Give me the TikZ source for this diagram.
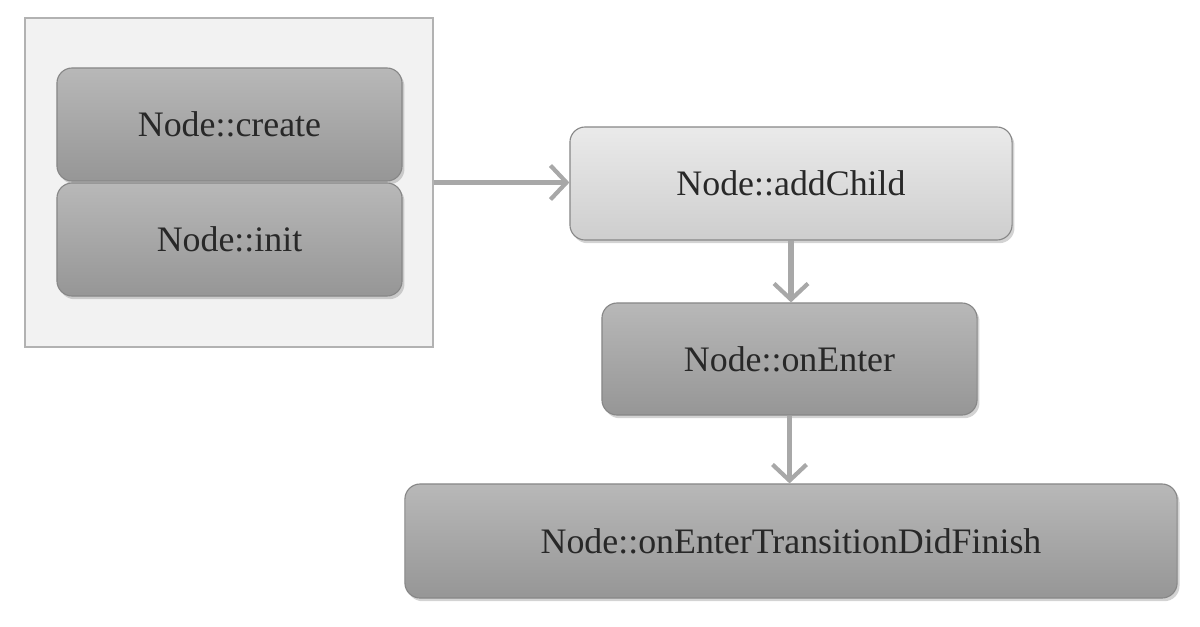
\documentclass[tikz,border=0pt]{standalone}
\usepackage{fontspec}
\setmainfont{Liberation Serif}
\usetikzlibrary{arrows.meta,shadows}
\definecolor{FrameFill}{RGB}{242,242,242}
\definecolor{FrameLine}{RGB}{178,178,178}
\definecolor{DarkTop}{RGB}{184,184,184}
\definecolor{DarkBot}{RGB}{150,150,150}
\definecolor{LightTop}{RGB}{234,234,234}
\definecolor{LightBot}{RGB}{206,206,206}
\definecolor{BoxLine}{RGB}{135,135,135}
\definecolor{ArrowGray}{RGB}{168,168,168}
\definecolor{TextGray}{RGB}{40,40,40}
\tikzset{
  callbox/.style={rounded corners=0.38cm,draw=BoxLine,line width=0.8pt,top color=DarkTop,bottom color=DarkBot,
    text=TextGray,font=\fontsize{25.5}{30}\selectfont,inner sep=0pt,
    drop shadow={shadow xshift=0.06cm,shadow yshift=-0.08cm,opacity=0.35}},
  lightbox/.style={callbox,top color=LightTop,bottom color=LightBot},
  flow/.style={ArrowGray,line width=3.6pt,-{Straight Barb[length=0.4cm,width=0.85cm,line width=3pt]}}
}
\begin{document}
\begin{tikzpicture}[x=0.025cm,y=-0.025cm]
\useasboundingbox (0,0) rectangle (1200,626);
\node[draw=FrameLine,fill=FrameFill,line width=1pt,minimum width=10.2cm,minimum height=8.225cm,inner sep=0pt] (frame) at (229,182.5) {};
\node[callbox,minimum width=8.625cm,minimum height=2.825cm] (create) at (229.5,124.5) {Node::create};
\node[callbox,minimum width=8.625cm,minimum height=2.825cm] (init) at (229.5,239.5) {Node::init};
\node[lightbox,minimum width=11.05cm,minimum height=2.825cm] (addchild) at (791,183.5) {Node::addChild};
\node[callbox,minimum width=9.375cm,minimum height=2.8cm] (onenter) at (789.5,359) {Node::onEnter};
\node[callbox,minimum width=19.3cm,minimum height=2.85cm] (didfinish) at (791,541) {Node::onEnterTransitionDidFinish};
\draw[flow] (frame.east) -- (frame.east -| addchild.west);
\draw[flow] (addchild.south) -- (addchild.south |- onenter.north);
\draw[flow] (onenter.south) -- (onenter.south |- didfinish.north);
\end{tikzpicture}
\end{document}
